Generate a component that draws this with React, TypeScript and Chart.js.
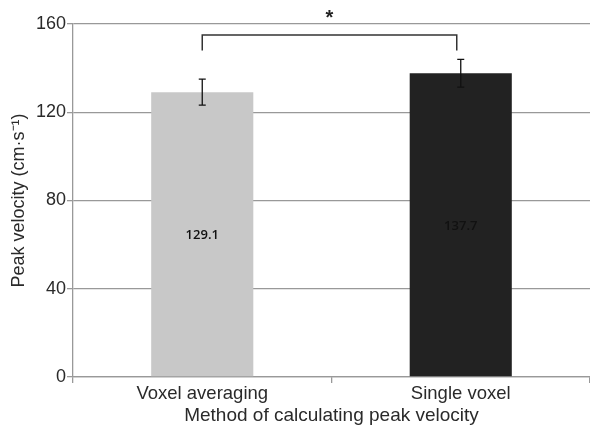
import React, { useEffect, useRef } from "react";
import { Chart, registerables } from "chart.js";

Chart.register(...registerables);

const categories = ["Voxel averaging", "Single voxel"];
const values = [129.1, 137.7];
const errors = [5.9, 6.3];
const barColors = ["#c8c8c8", "#222222"];
const yTicks = [0, 40, 80, 120, 160];
const bracketLevels = [155, 148]; // top of bracket, bottom of drops
const asteriskLevel = 164.5;

const overlayPlugin = {
  id: "overlay",
  afterDatasetsDraw(chart: any) {
    const { ctx } = chart;
    const x = chart.scales.x;
    const y = chart.scales.y;
    ctx.save();
    // value labels
    ctx.font = "600 13px 'Open Sans'";
    ctx.fillStyle = "#111";
    ctx.textAlign = "center";
    ctx.textBaseline = "middle";
    values.forEach((v, i) => {
      const px = x.getPixelForValue(i);
      const py = (y.getPixelForValue(v) + y.getPixelForValue(0)) / 2;
      ctx.fillText(v.toFixed(1), px, py + 1);
    });
    // error bars
    ctx.strokeStyle = "#111";
    ctx.lineWidth = 1.3;
    values.forEach((v, i) => {
      const px = x.getPixelForValue(i);
      const t = y.getPixelForValue(v + errors[i]);
      const b = y.getPixelForValue(v - errors[i]);
      ctx.beginPath();
      ctx.moveTo(px, t);
      ctx.lineTo(px, b);
      ctx.moveTo(px - 3.5, t);
      ctx.lineTo(px + 3.5, t);
      ctx.moveTo(px - 3.5, b);
      ctx.lineTo(px + 3.5, b);
      ctx.stroke();
    });
    // bracket
    const x1 = x.getPixelForValue(0);
    const x2 = x.getPixelForValue(1) - 4;
    const yt = y.getPixelForValue(bracketLevels[0]);
    const yb = y.getPixelForValue(bracketLevels[1]);
    ctx.strokeStyle = "#333";
    ctx.lineWidth = 1.5;
    ctx.beginPath();
    ctx.moveTo(x1, yb);
    ctx.lineTo(x1, yt);
    ctx.lineTo(x2, yt);
    ctx.lineTo(x2, yb);
    ctx.stroke();
    // asterisk
    ctx.fillStyle = "#222";
    ctx.font = "bold 20px 'Liberation Sans'";
    ctx.fillText("*", (x1 + x2) / 2, y.getPixelForValue(asteriskLevel) + 4);
    ctx.restore();
  },
};

export default function App() {
  const ref = useRef<HTMLCanvasElement>(null);
  useEffect(() => {
    document.body.style.margin = "0";
    const chart = new Chart(ref.current as HTMLCanvasElement, {
      type: "bar",
      data: {
        labels: categories,
        datasets: [
          {
            data: values,
            backgroundColor: barColors,
            barPercentage: 0.395,
            categoryPercentage: 1,
          },
        ],
      },
      options: {
        animation: false,
        responsive: false,
        layout: { padding: { top: 24, right: 0, left: 0, bottom: 0 } },
        plugins: { legend: { display: false }, tooltip: { enabled: false } },
        scales: {
          x: {
            afterFit: (s: any) => {
              s.height = 50;
            },
            grid: { drawOnChartArea: false, color: "#999", tickLength: 6, lineWidth: 1.3 },
            border: { color: "#999", width: 1.3 },
            ticks: {
              color: "#2a2a2a",
              font: { family: "'Liberation Sans'", size: 18.5 },
              padding: 0,
            },
            title: {
              display: true,
              text: "Method of calculating peak velocity",
              color: "#2a2a2a",
              font: { family: "'Liberation Sans'", size: 19 },
              padding: { top: 0, bottom: 0 },
            },
          },
          y: {
            min: 0,
            max: 160,
            afterFit: (s: any) => {
              s.width = 73;
            },
            afterBuildTicks: (s: any) => {
              s.ticks = yTicks.map((v) => ({ value: v }));
            },
            grid: { color: "#999", tickLength: 6, lineWidth: 1.3 },
            border: { color: "#999", width: 1.3 },
            ticks: {
              color: "#2a2a2a",
              font: { family: "'Liberation Sans'", size: 18 },
              padding: 1,
            },
            title: {
              display: true,
              text: "Peak velocity (cm·s⁻¹)",
              color: "#2a2a2a",
              font: { family: "'Liberation Sans'", size: 18 },
              padding: { top: 8, bottom: 0 },
              align: "center",
            },
          },
        },
      },
      plugins: [overlayPlugin],
    });
    return () => chart.destroy();
  }, []);
  return (
    <div style={{ position: "relative", width: 590, height: 427 }}>
      <canvas ref={ref} width={590} height={427} />
    </div>
  );
}
